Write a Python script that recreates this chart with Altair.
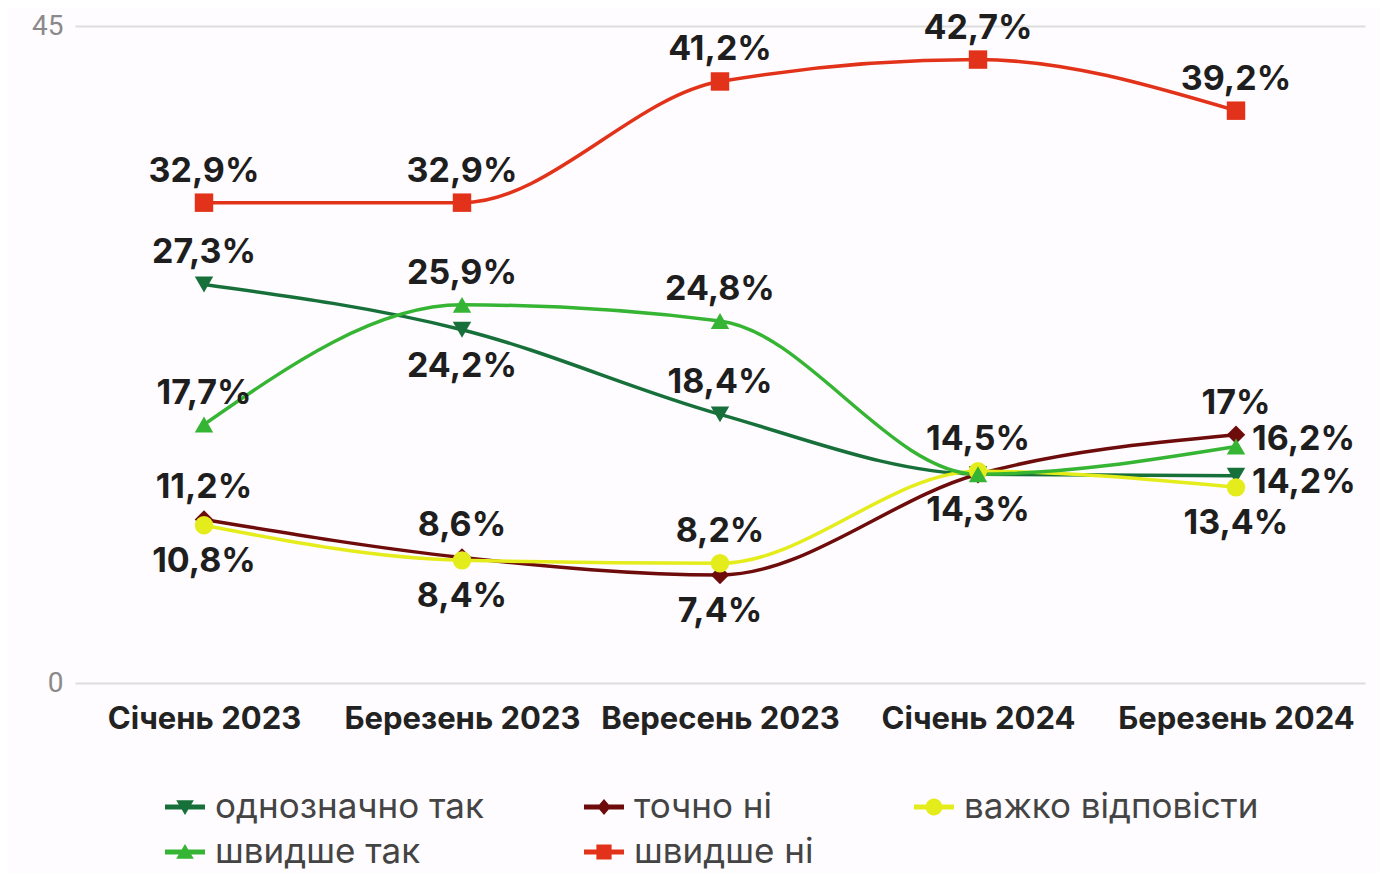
import altair as alt
import pandas as pd

months = ["Січень 2023", "Березень 2023", "Вересень 2023", "Січень 2024", "Березень 2024"]
series = ["однозначно так", "точно ні", "важко відповісти", "швидше так", "швидше ні"]
colors = ["#17703a", "#6e0b0b", "#e5ec1c", "#36b534", "#e2321a"]
shapes = ["triangle-down", "diamond", "circle", "triangle-up", "square"]

odnoznachno_tak = [27.3, 24.2, 18.4, 14.3, 14.2]
tochno_ni = [11.2, 8.6, 7.4, 14.3, 17.0]
vazhko = [10.8, 8.4, 8.2, 14.5, 13.4]
shvydshe_tak = [17.7, 25.9, 24.8, 14.3, 16.2]
shvydshe_ni = [32.9, 32.9, 41.2, 42.7, 39.2]

# label placement for each point
pos_odnoznachno_tak = ["above", "below", "above", "below", "right_down"]
pos_tochno_ni = ["above", "above", "below", "none", "above"]
pos_vazhko = ["below", "below", "above", "above", "below"]
pos_shvydshe_tak = ["above", "above", "above", "none", "right_up"]
pos_shvydshe_ni = ["above", "above", "above", "above", "above"]

values = [odnoznachno_tak, tochno_ni, vazhko, shvydshe_tak, shvydshe_ni]
positions = [pos_odnoznachno_tak, pos_tochno_ni, pos_vazhko, pos_shvydshe_tak, pos_shvydshe_ni]

rows = []
for s, vals, ps in zip(series, values, positions):
    for m, v, p in zip(months, vals, ps):
        rows.append({"series": s, "month": m, "value": v,
                     "label": f"{v:g}".replace(".", ",") + "%", "pos": p})
df = pd.DataFrame(rows)

# legend symbols: short line with marker in the middle (all drawn clockwise)
bar = "M-1,-0.12H1V0.12H-1Z "
legend_paths = [
    bar + "M-0.44,-0.34L0.44,-0.34L0,0.4Z",
    bar + "M0,-0.4L0.34,0L0,0.4L-0.34,0Z",
    bar + "M-0.42,0A0.42,0.42 0 1,1 0.42,0A0.42,0.42 0 1,1 -0.42,0Z",
    bar + "M-0.44,0.34L0,-0.4L0.44,0.34Z",
    bar + "M-0.38,-0.38H0.38V0.38H-0.38Z",
]

FONT = "Inter"

x = alt.X("month:N", sort=months, scale=alt.Scale(type="point", padding=0.5),
          axis=alt.Axis(labelAngle=0, labelFontSize=31, labelFontWeight="bold",
                        labelColor="#222222", labelPadding=21, domain=False,
                        ticks=False, grid=False, title=None, labelFont=FONT,
                        labelLimit=0))
y = alt.Y("value:Q", scale=alt.Scale(domain=[0, 45], nice=False),
          axis=alt.Axis(values=[0, 45], grid=True, gridColor="#dedede", gridWidth=2,
                        domain=False, ticks=False, labelFontSize=28, labelColor="#8a8a8a",
                        labelPadding=12, title=None, labelFont="Roboto"))

color_scale = alt.Scale(domain=series, range=colors)

base = alt.Chart(df)

lines = base.mark_line(interpolate="monotone", strokeWidth=3.5).encode(
    x=x, y=y, color=alt.Color("series:N", scale=color_scale, legend=None))

points = base.mark_point(filled=True, size=340, opacity=1).encode(
    x=x, y=y,
    color=alt.Color("series:N", scale=color_scale, legend=None),
    shape=alt.Shape("series:N", scale=alt.Scale(domain=series, range=shapes), legend=None))

text_style = dict(fontSize=34, fontWeight="bold", font=FONT, color="#1e1e1e")

above = base.transform_filter("datum.pos == 'above'").mark_text(
    dy=-31, baseline="middle", **text_style).encode(x=x, y=y, text="label:N")
below = base.transform_filter("datum.pos == 'below'").mark_text(
    dy=37, baseline="middle", **text_style).encode(x=x, y=y, text="label:N")
right_up = base.transform_filter("datum.pos == 'right_up'").mark_text(
    dx=16, dy=-6, align="left", baseline="middle", **text_style).encode(x=x, y=y, text="label:N")
right_down = base.transform_filter("datum.pos == 'right_down'").mark_text(
    dx=16, dy=7, align="left", baseline="middle", **text_style).encode(x=x, y=y, text="label:N")

legend_props = dict(
    orient="none", legendX=90, legendY=761, direction="horizontal", columns=3,
    columnPadding=100, rowPadding=7, symbolSize=1600, symbolOpacity=1,
    symbolStrokeWidth=0, labelFontSize=35, labelColor="#444444", labelFont=FONT,
    labelOffset=10, labelLimit=0, title=None)

legend_holder = base.mark_point(filled=True, opacity=0).encode(
    x=x, y=y,
    color=alt.Color("series:N", scale=color_scale, legend=alt.Legend(**legend_props)),
    shape=alt.Shape("series:N", scale=alt.Scale(domain=series, range=legend_paths),
                    legend=alt.Legend(**legend_props)))

chart = alt.layer(lines, points, above, below, right_up, right_down, legend_holder).resolve_scale(
    color="independent", shape="independent"
).properties(
    width=1290, height=657,
    autosize=alt.AutoSizeParams(type="none"),
    padding={"left": 67, "top": 18, "right": 15, "bottom": 190},
    background="#fefcfe",
).configure_view(stroke=None)

chart.save("out.html", embed_options={"renderer": "svg", "actions": False})
